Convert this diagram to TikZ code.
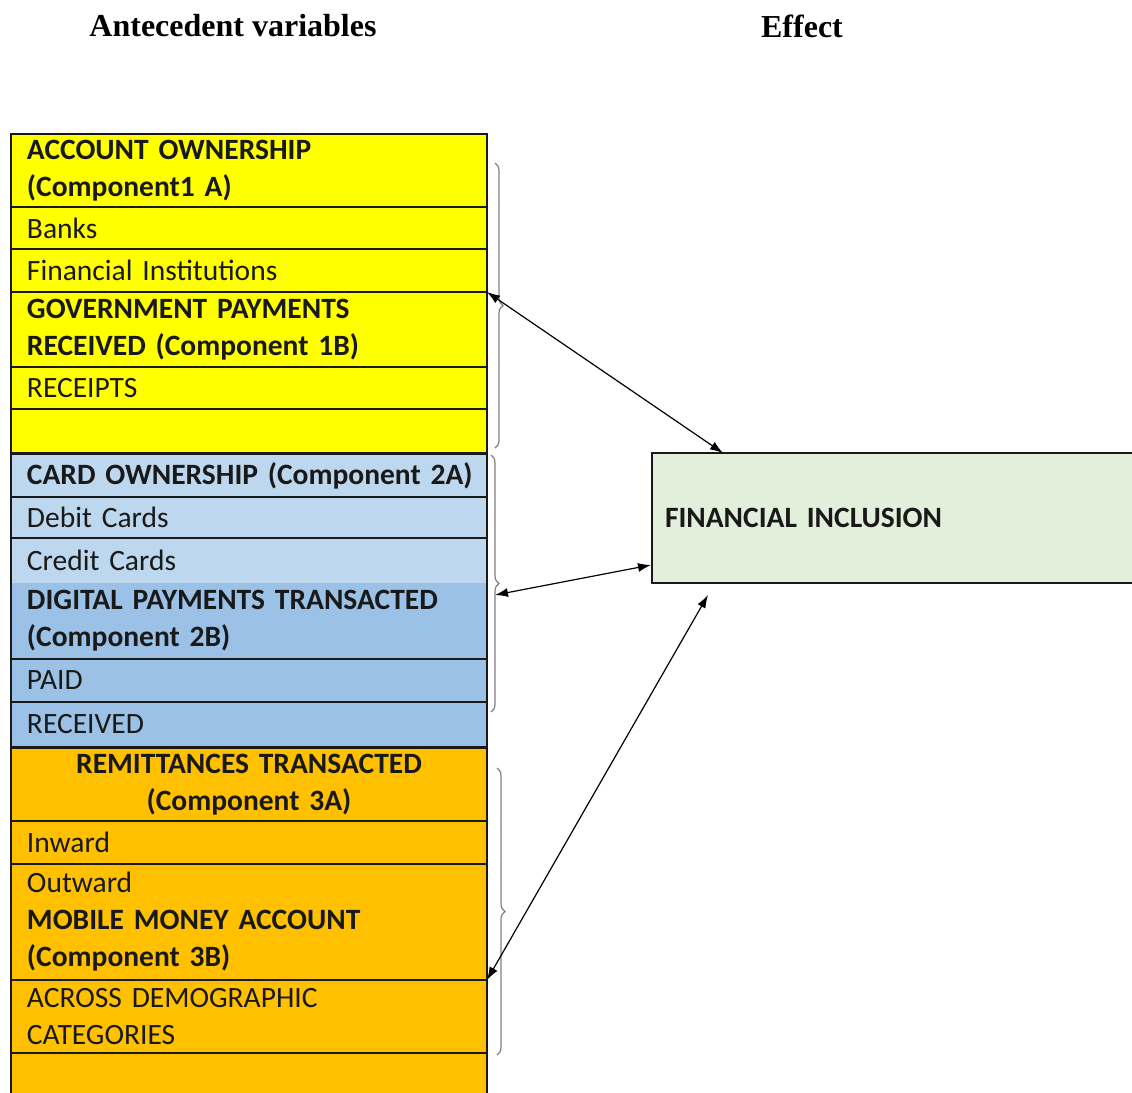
\documentclass[tikz,border=0pt]{standalone}
\usepackage{fontspec}
\setmainfont{Carlito}
\newfontfamily\headfont{Liberation Serif}
\usetikzlibrary{arrows.meta,decorations.pathreplacing}
\definecolor{cellyellow}{HTML}{FFFF00}
\definecolor{cellpale}{HTML}{BDD7EE}
\definecolor{cellblue}{HTML}{9BC2E6}
\definecolor{cellorange}{HTML}{FFC000}
\definecolor{effectgreen}{HTML}{E2EFDA}

\begin{document}
\begin{tikzpicture}[x=1pt,y=-1pt,
    row/.style={anchor=north west,fill=#1,draw=black!90,line width=1.6pt,outer sep=0pt,
        inner xsep=16pt,inner ysep=0pt,text width=444pt,minimum width=476pt,
        align=left,text=black!90,font=\fontsize{29.5}{37}\selectfont},
    head/.style={font=\headfont\bfseries\fontsize{32}{38}\selectfont},
    grp/.style={draw=black!50,line width=1.2pt,decorate,decoration={brace,amplitude=8pt}},
    link/.style={line width=1.2pt,{Latex[length=13pt,width=9pt]}-{Latex[length=13pt,width=9pt]}}]
                \useasboundingbox (0,0) rectangle (1132,1092);
                \clip (0,0) rectangle (1132,1092);

                \node[head] (antec) at (233,26) {Antecedent variables};
                \node[head] (effect) at (802,26) {Effect};

                \node[row=cellyellow,minimum height=73pt] (acc) at (11,134) {\textbf{ACCOUNT OWNERSHIP}\\\textbf{(Component1 A)}};
                \node[row=cellyellow,minimum height=42pt] (banks) at (11,207) {Banks};
                \node[row=cellyellow,minimum height=43pt] (fininst) at (11,249) {Financial Institutions};
                \node[row=cellyellow,minimum height=75pt] (govt) at (11,292) {\textbf{GOVERNMENT PAYMENTS}\\\textbf{RECEIVED (Component 1B)}};
                \node[row=cellyellow,minimum height=42pt] (receipts) at (11,367) {RECEIPTS};
                \node[row=cellyellow,minimum height=44pt] (yblank) at (11,409) {};

                \node[row=cellpale,minimum height=43pt] (card) at (11,454) {\mbox{\textbf{CARD OWNERSHIP (Component 2A)}}};
                \node[row=cellpale,minimum height=41pt] (debit) at (11,497) {Debit Cards};
                \node[row=cellpale,draw=none,minimum height=45pt] (credit) at (11,538) {Credit Cards};
                \node[row=cellblue,draw=none,minimum height=76pt] (digital) at (11,583) {\textbf{DIGITAL PAYMENTS TRANSACTED}\\\textbf{(Component 2B)}};
                \node[row=cellblue,minimum height=43pt] (paid) at (11,659) {PAID};
                \node[row=cellblue,minimum height=45pt] (recvd) at (11,702) {RECEIVED};
                \draw[line width=1.6pt,black!90] (credit.north west) -- (credit.north east);
                \draw[line width=1.6pt,black!90] (credit.north west) -- (digital.south west);
                \draw[line width=1.6pt,black!90] (credit.north east) -- (digital.south east);

                \node[row=cellorange,align=center,minimum height=73pt] (remit) at (11,748) {\textbf{REMITTANCES TRANSACTED}\\\textbf{(Component 3A)}};
                \node[row=cellorange,minimum height=43pt] (inward) at (11,821) {Inward};
                \node[row=cellorange,minimum height=116pt] (outward) at (11,864) {Outward\\\textbf{MOBILE MONEY ACCOUNT}\\\textbf{(Component 3B)}};
                \node[row=cellorange,minimum height=73pt] (across) at (11,980) {ACROSS DEMOGRAPHIC\\CATEGORIES};
                \node[row=cellorange,minimum height=60pt] (oblank) at (11,1053) {};

                \node[anchor=north west,fill=effectgreen,draw=black!90,line width=1.6pt,outer sep=0pt,
                    minimum width=520pt,minimum height=130pt,inner xsep=13pt,text width=494pt,
                    align=left,font=\bfseries\fontsize{29.5}{37}\selectfont,text=black!90] (incl) at (652,453) {FINANCIAL INCLUSION};

                \coordinate (g1top) at (495,163);
                \coordinate (g1bot) at (495,448);
                \coordinate (g2top) at (491,455);
                \coordinate (g2bot) at (491,712);
                \coordinate (g3top) at (497,768);
                \coordinate (g3bot) at (497,1055);
                \draw[grp] (g1top) -- (g1bot);
                \draw[grp] (g2top) -- (g2bot);
                \draw[grp] (g3top) -- (g3bot);

                \coordinate (tip1) at (723,453);
                \coordinate (tip2a) at (495,595);
                \coordinate (tip2b) at (651,565);
                \coordinate (tip3) at (708,595);
                \draw[link] (govt.north east) -- (tip1);
                \draw[link] (tip2a) -- (tip2b);
                \draw[link] (outward.south east) -- (tip3);
            \end{tikzpicture}
\end{document}
